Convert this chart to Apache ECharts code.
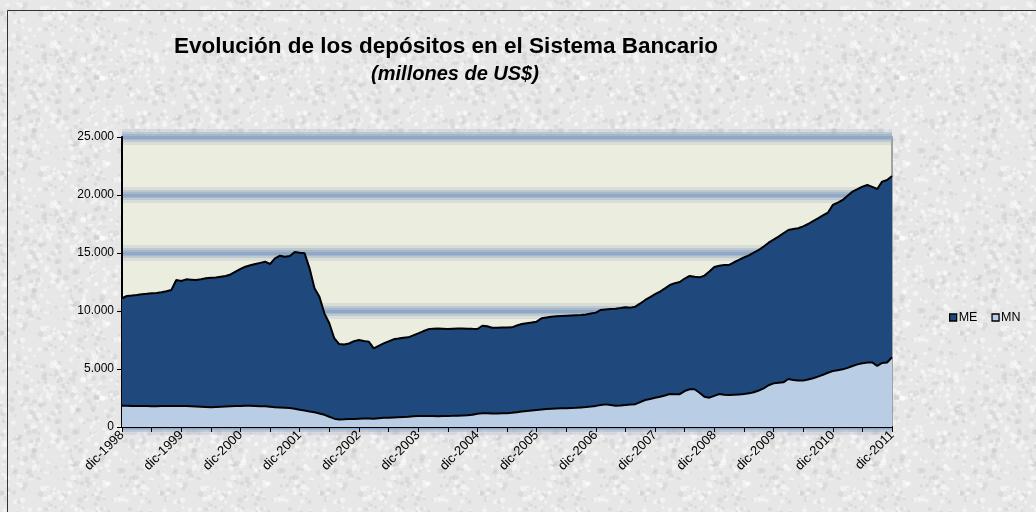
<!DOCTYPE html>
<html>
<head>
<meta charset="utf-8">
<script src="https://cdn.jsdelivr.net/npm/echarts@6/dist/echarts.min.js"></script>
<style>
html,body{margin:0;padding:0;background:#e8e8e8;}
#c{width:1036px;height:512px;}
</style>
</head>
<body>
<div id="c"></div>
<script>
const monthNames = ['ene','feb','mar','abr','may','jun','jul','ago','sep','oct','nov','dic'];
const startYear = 1998, endYear = 2011;
const categories = ['dic-1998'];
for (let y = startYear + 1; y <= endYear; y++) {
  for (let m = 0; m < 12; m++) categories.push(monthNames[m] + '-' + y);
}

// MN: moneda nacional (millones de US$), mensual dic-1998 .. dic-2011
const MN = [
  1840,1830,1820,1810,1800,1800,1790,1790,1800,1800,1810,1820,
  1820,1800,1780,1760,1740,1720,1700,1720,1740,1760,1780,1800,
  1820,1840,1830,1810,1790,1780,1740,1700,1680,1660,1630,1580,
  1480,1420,1330,1270,1170,1050,880,720,650,660,680,700,
  720,730,740,720,760,790,800,820,840,860,880,920,
  950,950,950,940,930,940,950,960,980,1000,1010,1050,
  1150,1190,1180,1170,1170,1180,1190,1220,1270,1330,1380,1430,
  1470,1510,1550,1570,1590,1610,1620,1640,1660,1690,1720,1760,
  1820,1890,1950,1900,1840,1860,1900,1940,1970,2150,2330,2420,
  2520,2610,2720,2840,2830,2830,3100,3250,3250,2950,2610,2530,
  2680,2840,2790,2750,2780,2810,2840,2900,3000,3150,3330,3600,
  3760,3820,3850,4140,4050,4000,4000,4100,4200,4340,4500,4680,
  4830,4900,4970,5100,5260,5400,5490,5550,5570,5260,5520,5560,
  6010
];

// ME: moneda extranjera (millones de US$)
const ME = [
  9260,9460,9510,9570,9650,9680,9730,9770,9810,9900,10000,10850,
  10770,10930,10920,10910,11000,11100,11160,11160,11220,11260,11370,11600,
  11800,11980,12110,12240,12360,12470,12310,12840,13090,13020,13110,13510,
  13540,13550,12350,10690,10060,8750,8060,6930,6500,6460,6520,6700,
  6780,6690,6620,6060,6240,6420,6580,6740,6780,6830,6850,6980,
  7120,7300,7470,7540,7570,7540,7500,7510,7510,7500,7470,7410,
  7300,7540,7500,7390,7380,7390,7390,7370,7480,7550,7570,7570,
  7610,7860,7890,7940,7950,7960,7970,7970,7970,7960,7980,8020,
  8040,8200,8180,8270,8360,8390,8420,8350,8400,8500,8620,8780,
  8930,9060,9230,9400,9570,9670,9700,9770,9700,9950,10440,10870,
  11120,11060,11180,11220,11420,11590,11780,11900,12040,12110,12230,12290,
  12390,12590,12850,12840,13010,13130,13300,13400,13550,13650,13750,13790,
  14310,14450,14600,14830,15030,15100,15230,15310,15130,15260,15630,15730,
  15630
];

const yTicks = [0, 5000, 10000, 15000, 20000, 25000];
const titleText = 'Evolución de los depósitos en el Sistema Bancario';
const subtitleText = '(millones de US$)';

// decorative paper texture (deterministic hash noise)
function makeTexture() {
  const size = 160;
  const cv = document.createElement('canvas');
  cv.width = size; cv.height = size;
  const ctx = cv.getContext('2d');
  ctx.fillStyle = '#e7e7e7';
  ctx.fillRect(0, 0, size, size);
  function h(i) { const s = Math.sin(i * 12.9898) * 43758.5453; return s - Math.floor(s); }
  for (let i = 0; i < 700; i++) {
    const x = h(i * 3 + 1) * size, y = h(i * 3 + 2) * size, r = 0.8 + h(i * 3 + 3) * 2.2;
    const v = h(i * 7 + 5);
    ctx.fillStyle = v > 0.45 ? 'rgba(255,255,255,0.45)' : 'rgba(185,185,185,0.25)';
    ctx.beginPath(); ctx.arc(x, y, r, 0, Math.PI * 2); ctx.fill();
  }
  return cv;
}

const chart = echarts.init(document.getElementById('c'), null, {renderer: 'canvas'});
const font = 'Liberation Sans, Arial, sans-serif';

const hiddenAxis = (w, c) => ({
  type: 'value', min: yTicks[0], max: yTicks[yTicks.length - 1], interval: 5000,
  axisLine: {show: false}, axisTick: {show: false}, axisLabel: {show: false},
  splitLine: {show: true, lineStyle: {color: c, width: w}}
});

chart.setOption({
  backgroundColor: {image: makeTexture(), repeat: 'repeat'},
  animation: false,
  graphic: [
    {type: 'rect', shape: {x: 7.5, y: 10.5, width: 1040, height: 520}, style: {fill: 'none', stroke: '#333', lineWidth: 1}, z: 0},
    {type: 'text', x: 446, y: 47, style: {text: titleText, font: 'bold 22.5px ' + font, fill: '#000', align: 'center', verticalAlign: 'middle'}},
    {type: 'text', x: 455, y: 74, style: {text: subtitleText, font: 'italic bold 20px ' + font, fill: '#000', align: 'center', verticalAlign: 'middle'}}
  ],
  legend: {
    data: ['ME', 'MN'],
    left: 944, top: 306,
    icon: 'rect',
    itemWidth: 7, itemHeight: 7, itemGap: 14,
    textStyle: {fontFamily: font, fontSize: 12.5, color: '#000', padding: [0,0,0,-3]},
    itemStyle: {borderColor: '#000', borderWidth: 1.3}
  },
  grid: {
    left: 122, right: 144, top: 137, bottom: 85,
    show: true, backgroundColor: '#ebeedf', borderColor: '#8a8a8a', borderWidth: 1.5
  },
  xAxis: {
    type: 'category',
    data: categories,
    boundaryGap: false,
    axisLine: {lineStyle: {color: '#000', width: 2}},
    axisTick: {show: true, interval: 5, length: 5, lineStyle: {color: '#000'}},
    axisLabel: {interval: 11, rotate: 45, fontFamily: font, fontSize: 13, color: '#000', margin: 6},
    splitLine: {show: false}
  },
  yAxis: [
    {
      type: 'value',
      min: yTicks[0], max: yTicks[yTicks.length - 1], interval: 5000,
      axisLine: {show: true, lineStyle: {color: '#000', width: 2}},
      axisTick: {show: true, length: 5, lineStyle: {color: '#000'}},
      axisLabel: {
        fontFamily: font, fontSize: 12, color: '#000', margin: 8,
        formatter: v => v === 0 ? '0' : v.toLocaleString('de-DE')
      },
      splitLine: {show: true, lineStyle: {color: '#8ea8c6', width: 3}}
    },
    hiddenAxis(16, 'rgba(150,168,185,0.22)'),
    hiddenAxis(10, 'rgba(140,162,188,0.35)'),
    hiddenAxis(6, 'rgba(145,170,200,0.55)')
  ],
  series: [
    {
      name: 'MN', type: 'line', stack: 'total', data: MN,
      symbol: 'none', smooth: false,
      lineStyle: {color: '#000', width: 2},
      itemStyle: {color: '#b9cde5'},
      areaStyle: {color: '#b9cde5', opacity: 1},
      z: 3
    },
    {
      name: 'ME', type: 'line', stack: 'total', data: ME,
      symbol: 'none', smooth: false,
      lineStyle: {color: '#000', width: 2},
      itemStyle: {color: '#1f497d'},
      areaStyle: {color: '#1f497d', opacity: 1},
      z: 2
    }
  ]
});
</script>
</body>
</html>
